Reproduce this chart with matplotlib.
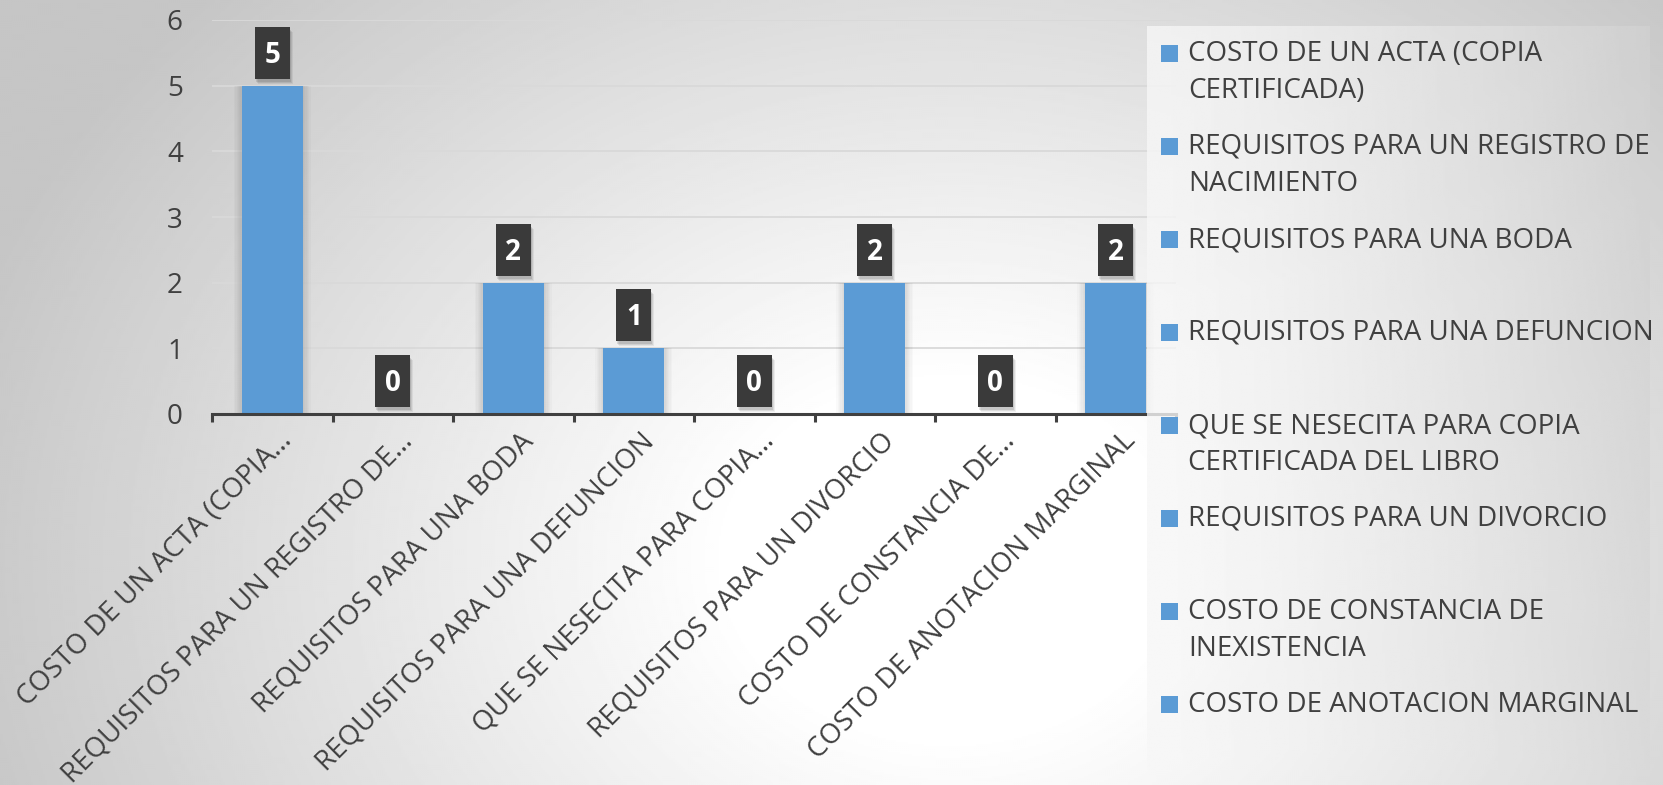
import textwrap
import numpy as np
import matplotlib
matplotlib.use("Agg")
import matplotlib.pyplot as plt
import matplotlib.transforms as mtransforms
from matplotlib.patches import Rectangle

# ---------------- data ----------------
categories = [
    "COSTO DE UN ACTA (COPIA CERTIFICADA)",
    "REQUISITOS PARA UN REGISTRO DE NACIMIENTO",
    "REQUISITOS PARA UNA BODA",
    "REQUISITOS PARA UNA DEFUNCION",
    "QUE SE NESECITA PARA COPIA CERTIFICADA DEL LIBRO",
    "REQUISITOS PARA UN DIVORCIO",
    "COSTO DE CONSTANCIA DE INEXISTENCIA",
    "COSTO DE ANOTACION MARGINAL",
]
values = [5, 0, 2, 1, 0, 2, 0, 2]
xtick_labels = [
    "COSTO DE UN ACTA (COPIA\u2026",
    "REQUISITOS PARA UN REGISTRO DE\u2026",
    "REQUISITOS PARA UNA BODA",
    "REQUISITOS PARA UNA DEFUNCION",
    "QUE SE NESECITA PARA COPIA\u2026",
    "REQUISITOS PARA UN DIVORCIO",
    "COSTO DE CONSTANCIA DE\u2026",
    "COSTO DE ANOTACION MARGINAL",
]
yticks = [0, 1, 2, 3, 4, 5, 6]

# ---------------- style ----------------
BAR = "#5B9BD5"
TXT = "#404040"
W, H = 1663, 785
DPI = 100
plt.rcParams["font.family"] = ["Open Sans", "DejaVu Sans"]

fig = plt.figure(figsize=(W / DPI, H / DPI), dpi=DPI)

# background radial gradient
bg = fig.add_axes([0, 0, 1, 1], zorder=-10)
yy, xx = np.mgrid[0:H:2, 0:W:2]
r = np.sqrt(((xx - 950) / 1000.0) ** 2 + ((yy - 560) / 800.0) ** 2)
t = np.clip((r - 0.22) / 0.8, 0, 1)
bg.imshow((255 - 57 * t) / 255.0, cmap="gray", vmin=0, vmax=1,
          extent=[0, W, H, 0], aspect="auto", interpolation="bilinear")
bg.set_xlim(0, W)
bg.set_ylim(H, 0)
bg.axis("off")

# main axes
ax = fig.add_axes([212 / W, 1 - 414 / H, (1176 - 212) / W, (414 - 20) / H])
ax.set_facecolor("none")
x = np.arange(len(values))
ax.set_xlim(-0.5, len(values) - 0.5)
ax.set_ylim(0, 6)

# soft bar shadows
for k in range(1, 7):
    ax.bar(x, values, width=0.505 + 0.022 * k, color="black", alpha=0.018,
           zorder=2, linewidth=0)
ax.bar(x, values, width=0.505, color=BAR, zorder=3, linewidth=0)

ax.set_yticks(yticks)
ax.yaxis.grid(True, color="#d9d9d9", linewidth=1.3)
ax.set_axisbelow(True)
for s in ["left", "right", "top"]:
    ax.spines[s].set_visible(False)
ax.spines["bottom"].set_color(TXT)
ax.spines["bottom"].set_linewidth(2.2)
ax.spines["bottom"].set_zorder(4)
ax.tick_params(axis="y", length=0, pad=21, labelsize=20, labelcolor=TXT)
ax.set_xticks(np.arange(-0.5, len(values), 1.0))
ax.set_xticklabels([])
ax.tick_params(axis="x", length=6, width=2.2, color=TXT, direction="out")

# rotated category labels
trans = mtransforms.blended_transform_factory(ax.transData, ax.transAxes) + \
    mtransforms.ScaledTranslation(21 / DPI, -28 / DPI, fig.dpi_scale_trans)
for i, lab in enumerate(xtick_labels):
    ax.text(i, 0, lab, rotation=45, rotation_mode="anchor", ha="right",
            va="baseline", transform=trans, fontsize=20, color=TXT)

# data labels (dark boxes, sizes in pixels relative to bar top)
for i, v in enumerate(values):
    tr = fig.dpi_scale_trans + mtransforms.ScaledTranslation(i, v, ax.transData)
    for k, a in enumerate([0.10, 0.08, 0.06]):
        ax.add_patch(Rectangle(((-17.5 + 1 + k) / DPI, (7 - 3 - k) / DPI),
                               35 / DPI, 52 / DPI, transform=tr,
                               facecolor="black", alpha=a, linewidth=0,
                               zorder=5, clip_on=False))
    ax.add_patch(Rectangle((-17.5 / DPI, 7 / DPI), 35 / DPI, 52 / DPI,
                           transform=tr, facecolor="#3a3a3a", linewidth=0,
                           zorder=6, clip_on=False))
    ax.text(0, 23 / DPI, str(v), transform=tr, ha="center", va="baseline",
            color="white", fontsize=20, fontweight="bold", zorder=7)

# legend overlay panel
lax = fig.add_axes([0, 0, 1, 1], zorder=5)
lax.set_xlim(0, W)
lax.set_ylim(H, 0)
lax.axis("off")
lax.patch.set_alpha(0)
lx0, lx1, ly0, ly1 = 1147, 1650, 26, 770
GX, GY = np.meshgrid(np.linspace(0, 1, 200), np.linspace(0, 1, 200))
panel = (247 - 30 * GX ** 1.3 - 8 * (1 - GY) * GX) / 255.0
lax.imshow(panel, cmap="gray", vmin=0, vmax=1, extent=[lx0, lx1, ly1, ly0],
           aspect="auto", alpha=0.8, interpolation="bilinear")

for i, cat in enumerate(categories):
    yc = 53 + i * 93
    lax.add_patch(Rectangle((1161, yc - 8.5), 17, 17, color=BAR, linewidth=0))
    lax.text(1188, yc - 13, textwrap.fill(cat, 30), va="top", ha="left",
             fontsize=20, color=TXT, linespacing=1.45)

fig.savefig("out.png", dpi=DPI)
